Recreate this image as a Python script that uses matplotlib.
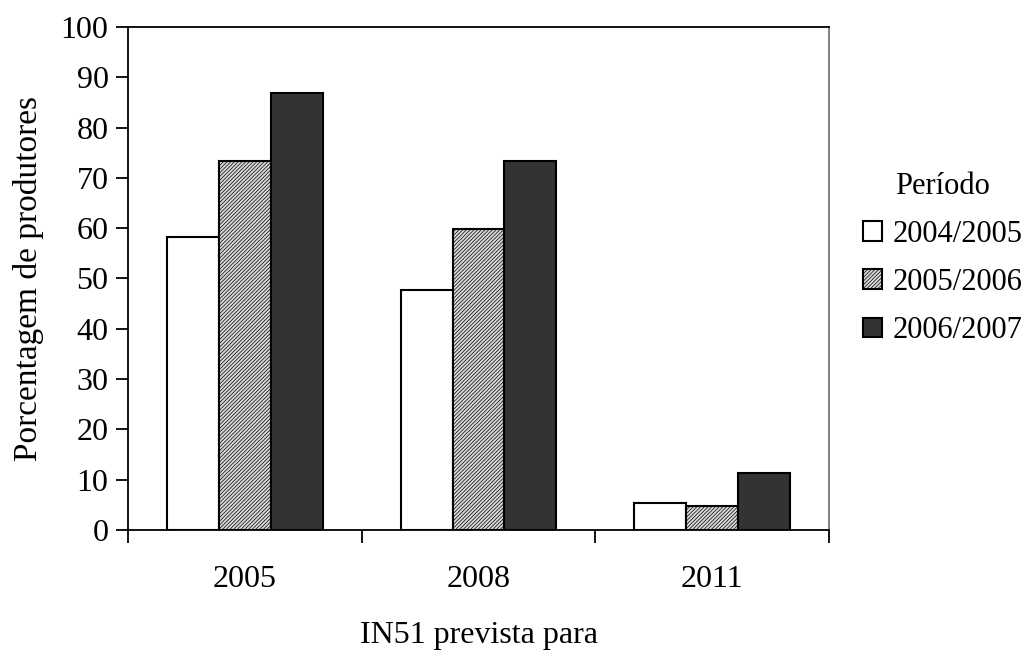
import matplotlib
matplotlib.use("Agg")
import matplotlib.pyplot as plt
import numpy as np

plt.rcParams['font.family'] = ['Liberation Serif', 'DejaVu Serif']
plt.rcParams['hatch.linewidth'] = 0.5

categories = ['2005', '2008', '2011']
periods = ['2004/2005', '2005/2006', '2006/2007']
v_2004_2005 = [58.2, 47.8, 5.3]
v_2005_2006 = [73.3, 59.8, 4.8]
v_2006_2007 = [86.8, 73.3, 11.3]

series = [v_2004_2005, v_2005_2006, v_2006_2007]
faces = ['white', '#d9d9d9', '#333333']
hatches = [None, '/////////', None]

FS = 23

fig = plt.figure(figsize=(10.30, 6.51), dpi=100)
ax = fig.add_axes([0.1243, 0.1859, 0.6806, 0.7726])

x = np.arange(len(categories))
width = 0.222
for i, vals in enumerate(series):
    ax.bar(x + (i - 1) * width, vals, width, color=faces[i], edgecolor='black',
           linewidth=1.5, hatch=hatches[i], label=periods[i])

ax.set_xlim(-0.5, 2.5)
ax.set_ylim(0, 100)
ax.set_yticks(np.arange(0, 101, 10))
ax.set_xticks(x)
ax.set_xticklabels(categories)
ax.set_xticks([-0.5, 0.5, 1.5, 2.5], minor=True)
ax.tick_params(axis='x', which='major', length=0, pad=25, labelsize=FS)
ax.tick_params(axis='x', which='minor', length=9, width=1.3, direction='out')
ax.tick_params(axis='y', length=9, width=1.3, direction='out', labelsize=FS, pad=5)
for s in ax.spines.values():
    s.set_linewidth(1.3)
ax.spines['right'].set_color('#777777')

ax.set_ylabel('Porcentagem de produtores', fontsize=24, labelpad=12)
ax.set_xlabel('IN51 prevista para', fontsize=FS, labelpad=20)

leg = ax.legend(title='Período', loc='center left', bbox_to_anchor=(1.048, 0.54),
                frameon=False, fontsize=22, title_fontsize=22,
                handlelength=0.62, handleheight=0.62, handletextpad=0.36,
                labelspacing=0.63, borderpad=0, borderaxespad=0)

fig.savefig('out.png', dpi=100)
